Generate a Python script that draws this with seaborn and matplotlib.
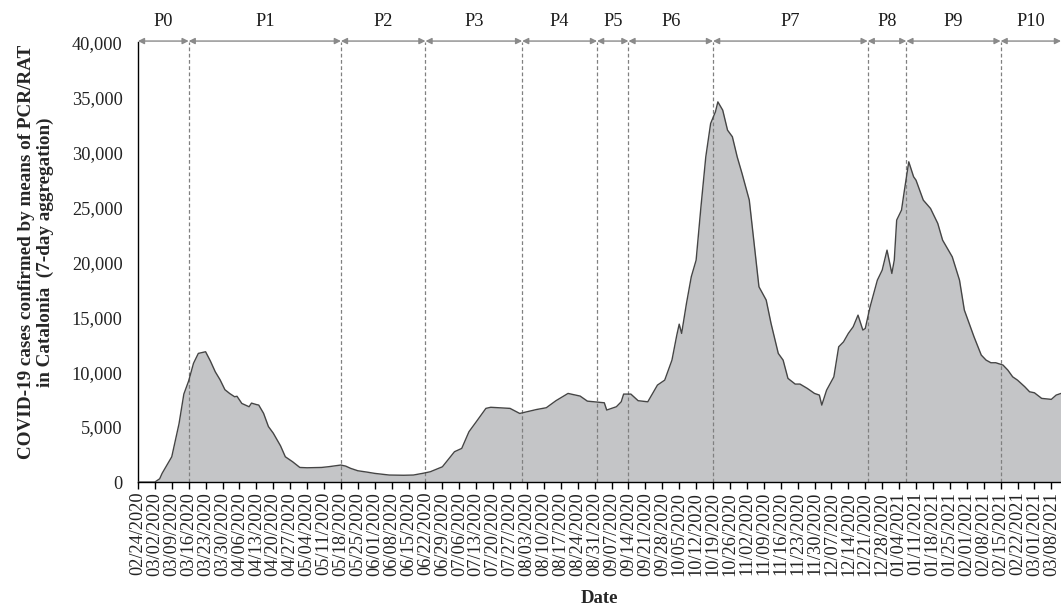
import matplotlib
matplotlib.use("Agg")
import matplotlib.pyplot as plt
from matplotlib.ticker import FuncFormatter
import pandas as pd
import seaborn as sns

# Weekly-aggregated confirmed COVID-19 cases (PCR/RAT), Catalonia
dates = [
    "2020-02-24", "2020-03-02", "2020-03-04", "2020-03-05", "2020-03-07", "2020-03-09",
    "2020-03-12", "2020-03-14", "2020-03-16", "2020-03-18", "2020-03-20", "2020-03-23",
    "2020-03-25", "2020-03-27", "2020-03-29", "2020-03-31", "2020-04-02", "2020-04-04",
    "2020-04-05", "2020-04-07", "2020-04-10", "2020-04-11", "2020-04-13", "2020-04-14",
    "2020-04-16", "2020-04-18", "2020-04-20", "2020-04-23", "2020-04-25", "2020-04-28",
    "2020-05-01", "2020-05-04", "2020-05-10", "2020-05-13", "2020-05-18", "2020-05-20",
    "2020-05-22", "2020-05-25", "2020-05-29", "2020-06-01", "2020-06-07", "2020-06-13",
    "2020-06-17", "2020-06-21", "2020-06-24", "2020-06-29", "2020-07-04", "2020-07-07",
    "2020-07-10", "2020-07-13", "2020-07-17", "2020-07-19", "2020-07-27", "2020-07-31",
    "2020-08-07", "2020-08-11", "2020-08-15", "2020-08-20", "2020-08-25", "2020-08-28",
    "2020-09-04", "2020-09-05", "2020-09-09", "2020-09-11", "2020-09-12", "2020-09-15",
    "2020-09-18", "2020-09-22", "2020-09-26", "2020-09-29", "2020-10-02", "2020-10-04",
    "2020-10-05", "2020-10-06", "2020-10-08", "2020-10-10", "2020-10-12", "2020-10-14",
    "2020-10-16", "2020-10-18", "2020-10-20", "2020-10-21", "2020-10-23", "2020-10-25",
    "2020-10-27", "2020-10-29", "2020-10-31", "2020-11-03", "2020-11-05", "2020-11-07",
    "2020-11-10", "2020-11-12", "2020-11-15", "2020-11-17", "2020-11-19", "2020-11-22",
    "2020-11-24", "2020-11-27", "2020-11-30", "2020-12-02", "2020-12-03", "2020-12-05",
    "2020-12-08", "2020-12-10", "2020-12-12", "2020-12-14", "2020-12-16", "2020-12-18",
    "2020-12-20", "2020-12-21", "2020-12-23", "2020-12-26", "2020-12-28", "2020-12-30",
    "2021-01-01", "2021-01-02", "2021-01-03", "2021-01-05", "2021-01-06", "2021-01-08",
    "2021-01-10", "2021-01-11", "2021-01-14", "2021-01-17", "2021-01-20", "2021-01-22",
    "2021-01-26", "2021-01-29", "2021-01-31", "2021-02-04", "2021-02-07", "2021-02-09",
    "2021-02-11", "2021-02-13", "2021-02-16", "2021-02-18", "2021-02-20", "2021-02-22",
    "2021-02-25", "2021-02-27", "2021-03-01", "2021-03-04", "2021-03-08", "2021-03-10",
    "2021-03-12",
]
cases = [
    0, 0, 300, 790, 1550, 2300,
    5300, 8000, 9200, 10800, 11700, 11850,
    11000, 10030, 9300, 8400, 8050, 7760,
    7800, 7150, 6850, 7180, 7050, 7000,
    6250, 5050, 4450, 3300, 2300, 1850,
    1330, 1300, 1330, 1400, 1550, 1450,
    1250, 1030, 900, 790, 640, 620,
    640, 800, 940, 1390, 2760, 3060,
    4580, 5480, 6700, 6800, 6700, 6240,
    6600, 6760, 7400, 8060, 7820, 7360,
    7210, 6550, 6850, 7300, 8000, 8000,
    7400, 7300, 8820, 9270, 11090, 13360,
    14360, 13520, 16240, 18670, 20180, 25030,
    29570, 32600, 33670, 34570, 33820, 32000,
    31400, 29570, 28060, 25640, 21700, 17760,
    16550, 14430, 11700, 11090, 9430, 8910,
    8910, 8520, 8060, 7910, 7000, 8360,
    9570, 12300, 12750, 13520, 14120, 15180,
    13820, 13970, 15940, 18360, 19270, 21090,
    18970, 20180, 23820, 24730, 26240, 29120,
    27760, 27450, 25640, 24880, 23520, 22000,
    20480, 18360, 15640, 13210, 11550, 11090,
    10850, 10850, 10640, 10180, 9570, 9270,
    8670, 8210, 8120, 7610, 7520, 7910,
    8060,
]

# Period boundaries and labels
period_edges = ["2020-02-24", "2020-03-16", "2020-05-18", "2020-06-22", "2020-08-01",
                "2020-09-01", "2020-09-14", "2020-10-19", "2020-12-22", "2021-01-07",
                "2021-02-15", "2021-03-12"]
period_labels = ["P0", "P1", "P2", "P3", "P4", "P5", "P6", "P7", "P8", "P9", "P10"]

y_ticks = [0, 5000, 10000, 15000, 20000, 25000, 30000, 35000, 40000]

df = pd.DataFrame({"Date": pd.to_datetime(dates), "Cases": cases})
edges = pd.to_datetime(period_edges)

sns.set_theme(style="white")
plt.rcParams["font.family"] = ["Liberation Serif", "DejaVu Serif"]

fig = plt.figure(figsize=(10.61, 6.11), dpi=100)
ax = fig.add_axes([0.130, 0.211, 0.870, 0.720])

ax.fill_between(df["Date"], df["Cases"], 0, color="#c4c5c7", linewidth=0, zorder=1)
sns.lineplot(data=df, x="Date", y="Cases", ax=ax, color="#454545", linewidth=1.0, zorder=3)

x0, x1 = edges[0], edges[-1]
ax.set_xlim(x0, x1)
ax.set_ylim(0, 40000)

# Dashed period separators
for e in edges[1:-1]:
    ax.axvline(e, color="#808080", linestyle=(0, (3, 2)), linewidth=0.9, zorder=2)

# Period arrows and labels above the plot area
for i, lab in enumerate(period_labels):
    a, b = edges[i], edges[i + 1]
    ax.annotate("", xy=(b, 40100), xytext=(a, 40100), xycoords="data",
                arrowprops=dict(arrowstyle="<|-|>", color="#8a8a8a", lw=1.0,
                                mutation_scale=9, shrinkA=0, shrinkB=0),
                annotation_clip=False)
    mid = a + (b - a) / 2
    ax.text(mid, 41900, lab, ha="center", va="center", fontsize=13.2,
            color="#1a1a1a", clip_on=False)

# Weekly date ticks
week_ticks = pd.date_range("2020-02-24", "2021-03-08", freq="7D")
ax.set_xticks(week_ticks)
ax.set_xticklabels([d.strftime("%m/%d/%Y") for d in week_ticks], rotation=90,
                   fontsize=13.2, color="#222222")
ax.tick_params(axis="x", which="major", direction="out", length=5, width=1,
               color="black", bottom=True, pad=2)
ax.set_yticks(y_ticks)
ax.yaxis.set_major_formatter(FuncFormatter(lambda v, p: f"{int(v):,}"))
ax.tick_params(axis="y", length=0, labelsize=13.2, pad=11, labelcolor="#222222")

for s in ["top", "right"]:
    ax.spines[s].set_visible(False)
for s in ["left", "bottom"]:
    ax.spines[s].set_color("black")
    ax.spines[s].set_linewidth(1.0)

ax.set_xlabel("Date", fontsize=13.5, fontweight="bold", labelpad=10)
ax.set_ylabel("COVID-19 cases confirmed by means of PCR/RAT\nin Catalonia  (7-day aggregation)",
              fontsize=13.8, fontweight="bold", linespacing=1.15)
ax.yaxis.set_label_coords(-0.091, 0.523)
ax.grid(False)

fig.savefig("out.png", dpi=100)
